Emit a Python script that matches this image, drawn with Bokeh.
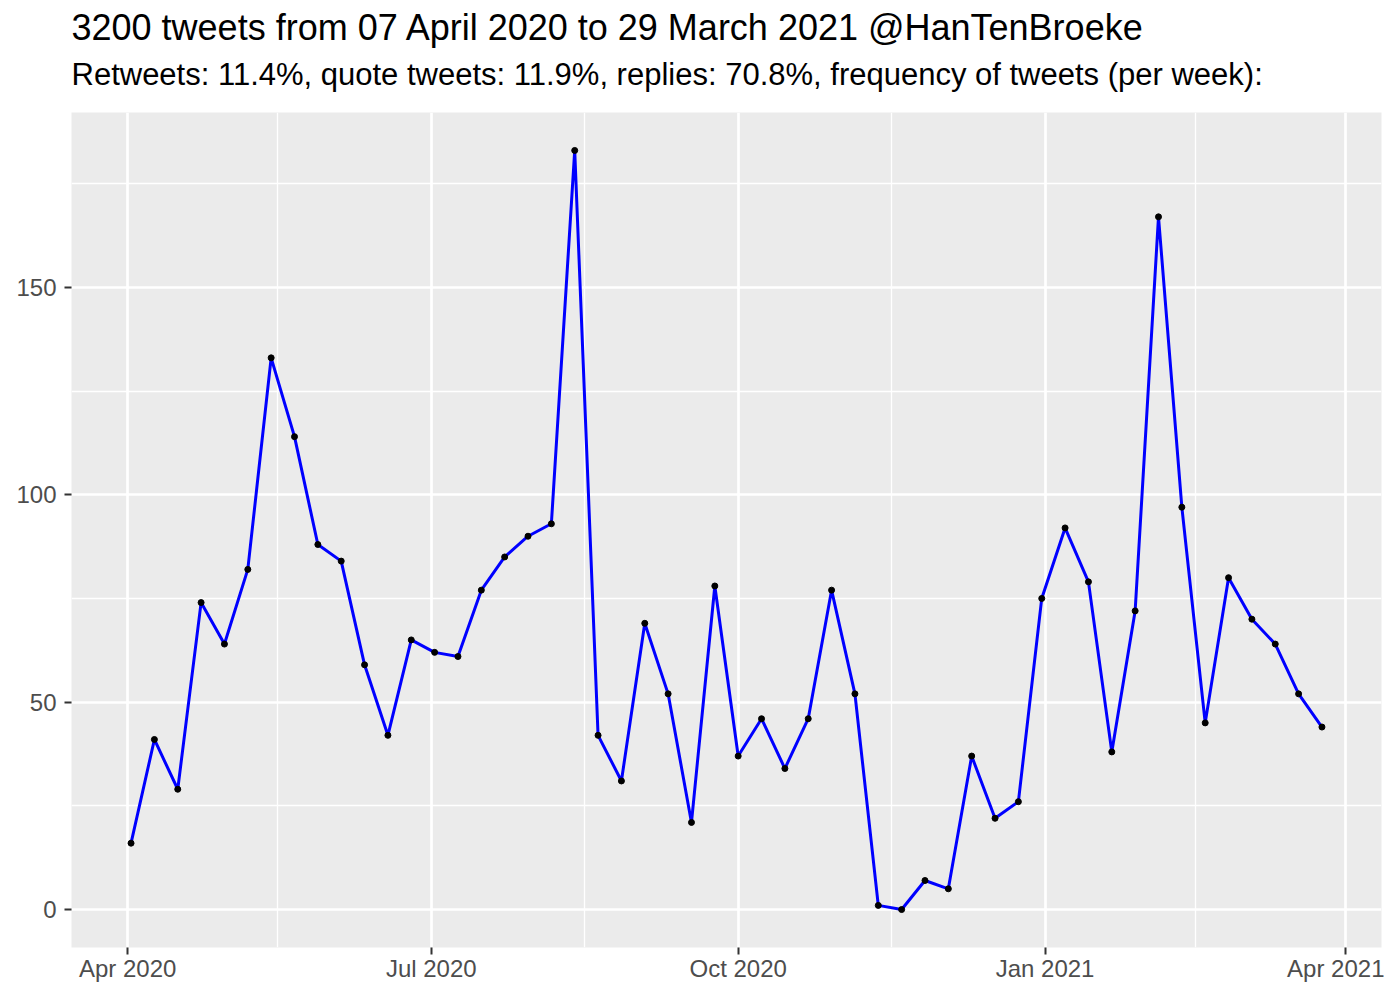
from datetime import datetime

from bokeh.plotting import figure
from bokeh.models import (ColumnDataSource, FixedTicker, DatetimeTickFormatter,
                          Title, Range1d)
from bokeh.embed import file_html
from bokeh.resources import INLINE

# ---------------- data ----------------
week_dates = [
    "2020-04-02", "2020-04-09", "2020-04-16", "2020-04-23", "2020-04-30",
    "2020-05-07", "2020-05-14", "2020-05-21", "2020-05-28",
    "2020-06-04", "2020-06-11", "2020-06-18", "2020-06-25",
    "2020-07-02", "2020-07-09", "2020-07-16", "2020-07-23", "2020-07-30",
    "2020-08-06", "2020-08-13", "2020-08-20", "2020-08-27",
    "2020-09-03", "2020-09-10", "2020-09-17", "2020-09-24",
    "2020-10-01", "2020-10-08", "2020-10-15", "2020-10-22", "2020-10-29",
    "2020-11-05", "2020-11-12", "2020-11-19", "2020-11-26",
    "2020-12-03", "2020-12-10", "2020-12-17", "2020-12-24", "2020-12-31",
    "2021-01-07", "2021-01-14", "2021-01-21", "2021-01-28",
    "2021-02-04", "2021-02-11", "2021-02-18", "2021-02-25",
    "2021-03-04", "2021-03-11", "2021-03-18", "2021-03-25",
]
tweets_per_week = [
    16, 41, 29, 74, 64, 82, 133, 114, 88, 84,
    59, 42, 65, 62, 61, 77, 85, 90, 93, 183,
    42, 31, 69, 52, 21, 78, 37, 46, 34, 46,
    77, 52, 1, 0, 7, 5, 37, 22, 26, 75,
    92, 79, 38, 72, 167, 97, 45, 80, 70, 64,
    52, 44,
]
x_tick_dates = ["2020-04-01", "2020-07-01", "2020-10-01", "2021-01-01", "2021-04-01"]
x_minor_dates = ["2020-05-16", "2020-08-16", "2020-11-16", "2021-02-15"]
y_ticks = [0, 50, 100, 150]
y_minor_ticks = [25, 75, 125, 175]

title_text = "3200 tweets from 07 April 2020 to 29 March 2021 @HanTenBroeke"
subtitle_text = ("Retweets: 11.4%, quote tweets: 11.9%, replies: 70.8%, "
                 "frequency of tweets (per week):")

# ---------------- helpers ----------------
def to_dt(s):
    return datetime.strptime(s, "%Y-%m-%d")

def to_ms(d):
    return (d - datetime(1970, 1, 1)).total_seconds() * 1000.0

dates = [to_dt(d) for d in week_dates]
source = ColumnDataSource(dict(date=dates, n=tweets_per_week))

span = dates[-1] - dates[0]
x_start = dates[0] - span * 0.05
x_end = dates[-1] + span * 0.05
y_lo, y_hi = min(tweets_per_week), max(tweets_per_week)
y_pad = (y_hi - y_lo) * 0.05

FONT = "Liberation Sans"

p = figure(width=1384, height=984, x_axis_type="datetime",
           output_backend="svg", toolbar_location=None,
           x_range=Range1d(x_start, x_end),
           y_range=Range1d(y_lo - y_pad, y_hi + y_pad),
           min_border_left=71, min_border_right=3,
           min_border_top=112, min_border_bottom=36)

p.background_fill_color = "#EBEBEB"
p.border_fill_color = "white"
p.outline_line_color = None

# grid
p.xgrid.grid_line_color = "white"
p.xgrid.grid_line_width = 2.7
p.ygrid.grid_line_color = "white"
p.ygrid.grid_line_width = 2.7
p.xgrid.minor_grid_line_color = "white"
p.xgrid.minor_grid_line_width = 1.35
p.ygrid.minor_grid_line_color = "white"
p.ygrid.minor_grid_line_width = 1.35

# axes
p.xaxis.ticker = FixedTicker(ticks=[to_ms(to_dt(d)) for d in x_tick_dates],
                             minor_ticks=[to_ms(to_dt(d)) for d in x_minor_dates])
p.xaxis.formatter = DatetimeTickFormatter(
    milliseconds="%b %Y", seconds="%b %Y", minsec="%b %Y", minutes="%b %Y",
    hourmin="%b %Y", hours="%b %Y", days="%b %Y", months="%b %Y", years="%b %Y")
p.yaxis.ticker = FixedTicker(ticks=y_ticks, minor_ticks=y_minor_ticks)

for ax in (p.xaxis, p.yaxis):
    ax.axis_line_color = None
    ax.major_tick_line_color = "#333333"
    ax.major_tick_line_width = 2
    ax.major_tick_out = 7
    ax.major_tick_in = 0
    ax.minor_tick_line_color = None
    ax.major_label_text_font = FONT
    ax.major_label_text_font_size = "24px"
    ax.major_label_text_color = "#4D4D4D"
p.xaxis.major_label_standoff = 0
p.yaxis.major_label_standoff = 8

# data
p.line("date", "n", source=source, line_color="#0000FF", line_width=3)
p.scatter("date", "n", source=source, size=6, fill_color="black",
          line_color="black")

# titles: subtitle first (closest to the frame), then the main title
p.add_layout(Title(text=subtitle_text, align="left", offset=0,
                   vertical_align="bottom",
                   standoff=42, text_font=FONT, text_font_size="31px",
                   text_font_style="normal", text_color="black"), "above")
p.add_layout(Title(text=title_text, align="left", offset=0,
                   vertical_align="bottom",
                   standoff=-28, text_font=FONT, text_font_size="36px",
                   text_font_style="normal", text_color="black"), "above")

open("out.html", "w").write(file_html(p, INLINE))
